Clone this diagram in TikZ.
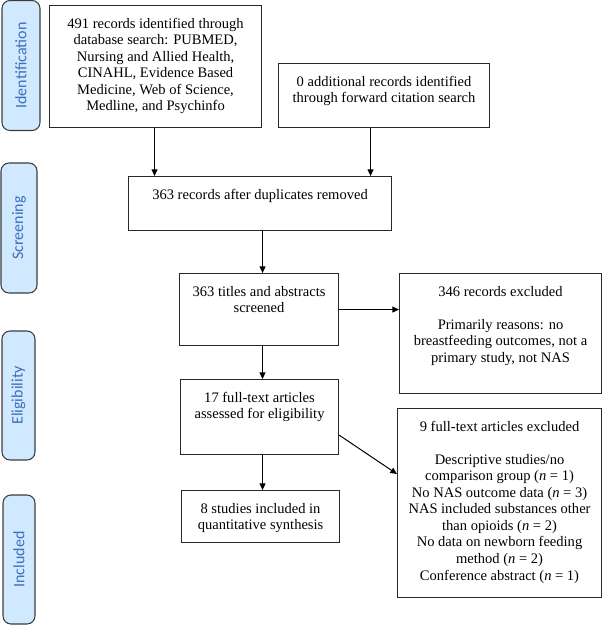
\documentclass[tikz,border=0pt]{standalone}
\usepackage{fontspec}
\setmainfont{Liberation Serif}
\newfontfamily\phasefont{Carlito}
\usetikzlibrary{arrows.meta}
\newlength\pxu \setlength\pxu{0.75pt}
\newcommand\bxt[3]{\parbox[c][#2\pxu][t]{#1\pxu}{\centering\rule{0pt}{17pt}#3}}
\definecolor{phasefill}{RGB}{208,233,255}
\definecolor{phasetext}{RGB}{62,110,190}
\definecolor{phaseline}{RGB}{60,60,60}
\definecolor{boxline}{RGB}{40,40,40}
\begin{document}
\begin{tikzpicture}[x=0.75pt,y=-0.75pt,
  box/.style={draw=boxline, line width=0.8pt, inner sep=0pt, anchor=north west,
    font=\fontsize{10.9}{12.4}\selectfont},
  phase/.style={draw=phaseline, line width=0.8pt, fill=phasefill, rounded corners=6pt,
    rotate=90, inner sep=0pt, text=phasetext, font=\phasefont\fontsize{12}{14}\selectfont},
  arr/.style={draw=black, line width=0.75pt, -{Triangle[length=5pt,width=4.5pt]}}]
\useasboundingbox (0,0) rectangle (603,625);

% phase labels
\node[phase, minimum width=130\pxu, minimum height=38\pxu] (pid) at (21,65.5) {Identification};
\node[phase, minimum width=130\pxu, minimum height=36\pxu] (psc) at (19,228) {Screening};
\node[phase, minimum width=129\pxu, minimum height=33\pxu] (pel) at (18.5,395.5) {Eligibility};
\node[phase, minimum width=129\pxu, minimum height=32\pxu] (pin) at (19,559.5) {Included};

% boxes
\node[box] (b1) at (49,5) {\bxt{212}{122}{491 records identified through\\ database search: PUBMED,\\ Nursing and Allied Health,\\ CINAHL, Evidence Based\\ Medicine, Web of Science,\\ Medline, and Psychinfo}};
\node[box] (b2) at (278,63) {\bxt{211}{64}{0 additional records identified\\ through forward citation search}};
\node[box] (b3) at (128,176) {\bxt{263}{54}{363 records after duplicates removed}};
\node[box] (b4) at (179,273) {\bxt{159}{72}{363 titles and abstracts\\ screened}};
\node[box] (b5) at (399,273) {\bxt{202}{120}{346 records excluded\\[12.4pt] Primarily reasons: no\\ breastfeeding outcomes, not a\\ primary study, not NAS}};
\node[box] (b6) at (180,379) {\bxt{158}{75}{17 full-text articles\\ assessed for eligibility}};
\node[box] (b7) at (181,490) {\bxt{158}{52}{8 studies included in\\ quantitative synthesis}};
\node[box] (b8) at (397,408) {\bxt{204}{189}{9 full-text articles excluded\\[12.4pt] Descriptive studies/no\\ comparison group (\textit{n} = 1)\\ No NAS outcome data (\textit{n} = 3)\\ NAS included substances other\\ than opioids (\textit{n} = 2)\\ No data on newborn feeding\\ method (\textit{n} = 2)\\ Conference abstract (\textit{n} = 1)}};

% connectors
\draw[arr] ([xshift=-0.75pt]b1.south) -- ([xshift=-0.75pt]b1.south |- b3.north);
\draw[arr] ([xshift=-10.1pt]b2.south) -- ([xshift=-10.1pt]b2.south |- b3.north);
\draw[arr] ([xshift=1.9pt]b3.south) -- ([xshift=1.9pt]b3.south |- b4.north);
\draw[arr] (b4.east) -- (b4.east -| b5.west);
\draw[arr] ([xshift=2.6pt]b4.south) -- ([xshift=2.6pt]b4.south |- b6.north);
\draw[arr] ([xshift=2.25pt]b6.south) -- ([xshift=2.25pt]b6.south |- b7.north);
\draw[arr] ([yshift=15pt]b6.south east) -- ([yshift=-49.5pt]b8.north west);
\end{tikzpicture}
\end{document}
